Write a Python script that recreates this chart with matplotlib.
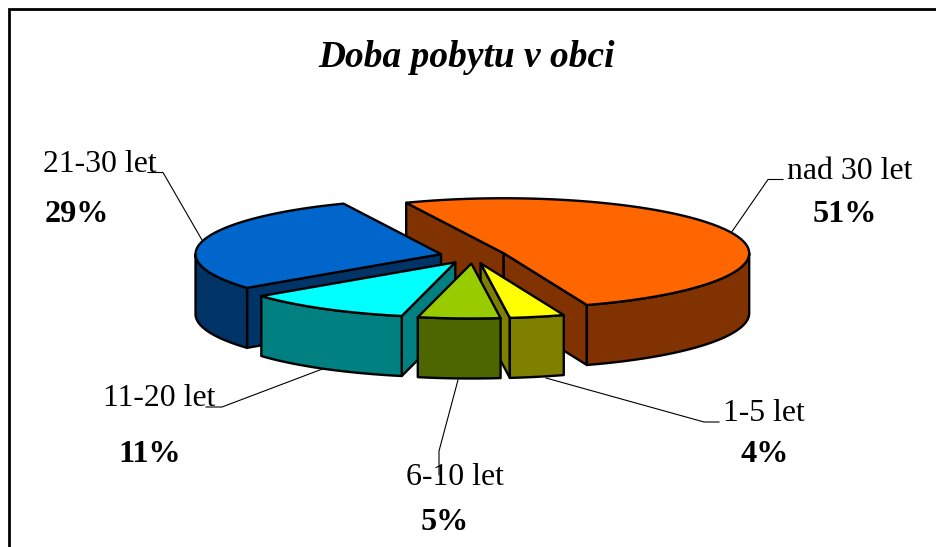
import numpy as np
import matplotlib
matplotlib.use("Agg")
import matplotlib.pyplot as plt
from matplotlib.patches import Polygon

# Data
categories = ["nad 30 let", "1-5 let", "6-10 let", "11-20 let", "21-30 let"]
values = [51.0, 3.6, 5.4, 11.0, 29.0]
top_colors = ["#FF6600", "#FFFF00", "#99CC00", "#00FFFF", "#0066CC"]
title_text = "Doba pobytu v obci"

# Pie projection (pixels)
CX, CY = 473.0, 256.0
RX, RY = 245.5, 55.0
EX, EY = 33.0, 7.5
DEPTH = 60.0
START = -23.4
EDGE = 1.7

W, H = 937, 547
fig = plt.figure(figsize=(W / 100, H / 100), dpi=100, facecolor="white")
ax = fig.add_axes([0, 0, 1, 1])
ax.set_xlim(0, W)
ax.set_ylim(H, 0)
ax.axis("off")
plt.rcParams["font.family"] = ["Liberation Serif", "DejaVu Serif"]

# Frame, open at the bottom and right
ax.plot([8.6, 8.6, W + 5], [H + 5, 9.3, 9.3], color="black", lw=2.0, solid_joinstyle="miter", zorder=1)


def shade(c):
    r, g, b = matplotlib.colors.to_rgb(c)
    return (r * 0.5, g * 0.5, b * 0.5)


def rim(theta_deg):
    t = np.radians(theta_deg)
    return np.column_stack((RX * np.sin(t), RY * np.cos(t) * -1))


def draw_poly(pts, color, z):
    ax.add_patch(Polygon(pts, closed=True, facecolor=color, edgecolor="black",
                         lw=EDGE, joinstyle="round", zorder=z))


# Slices
angles = np.array(values, dtype=float) / np.sum(values) * 360.0
starts = START + np.concatenate(([0.0], np.cumsum(angles)[:-1]))
ends = starts + angles
mids = (starts + ends) / 2
apex_x = CX + EX * np.sin(np.radians(mids))
apex_y = CY - EY * np.cos(np.radians(mids))
order = np.argsort(apex_y)

z = 2
for i in order:
    apex = np.array([apex_x[i], apex_y[i]])
    s, e = starts[i], ends[i]
    down = np.array([0, DEPTH])
    side = shade(top_colors[i])

    # radial walls that face the viewer
    for ang, visible in ((s, np.sin(np.radians(s)) < 0), (e, np.sin(np.radians(e)) > 0)):
        if visible:
            p = apex + rim(np.array([ang]))[0]
            draw_poly([apex, p, p + down, apex + down], side, z)
            z += 1

    # outer wall: the front part of the arc, 90..270 degrees
    a0, a1 = max(s, 90.0), min(e, 270.0)
    if a1 > a0:
        arc = apex + rim(np.linspace(a0, a1, 60))
        draw_poly(np.vstack((arc, (arc + down)[::-1])), side, z)
        z += 1

    # top face
    arc = apex + rim(np.linspace(s, e, 200))
    draw_poly(np.vstack((apex, arc)), top_colors[i], z)
    z += 1

# Labels
label_x = {"nad 30 let": 849.5, "1-5 let": 764, "6-10 let": 455, "11-20 let": 159.5, "21-30 let": 100}
label_y = {"nad 30 let": 179, "1-5 let": 421, "6-10 let": 485, "11-20 let": 406, "21-30 let": 172}
pct_x = {"nad 30 let": 845, "1-5 let": 765, "6-10 let": 444.5, "11-20 let": 149.5, "21-30 let": 77}
pct_y = {"nad 30 let": 222, "1-5 let": 462, "6-10 let": 530, "11-20 let": 462, "21-30 let": 222}
leaders = {
    "nad 30 let": ([783, 768, 731], [179.5, 179.5, 233]),
    "1-5 let": ([546, 704, 719], [378, 422, 422]),
    "6-10 let": ([458, 439, 439], [380, 451, 475]),
    "11-20 let": ([206, 222, 325], [407, 407, 368]),
    "21-30 let": ([148, 163, 202], [172.5, 172.5, 240]),
}

for name, val in zip(categories, values):
    xs, ys = leaders[name]
    ax.plot(xs, ys, color="black", lw=0.8, zorder=1, solid_joinstyle="miter")
    ax.text(label_x[name], label_y[name], name, ha="center", va="baseline",
            fontsize=22.9, color="black", zorder=100)
    ax.text(pct_x[name], pct_y[name], f"{val:.0f}%", ha="center", va="baseline",
            fontsize=23.2, fontweight="bold", color="black", zorder=100)

ax.text(467, 67, title_text, ha="center", va="baseline", fontsize=26.9,
        fontweight="bold", fontstyle="italic", color="black", zorder=100)

fig.savefig("out.png", dpi=100, facecolor="white")
